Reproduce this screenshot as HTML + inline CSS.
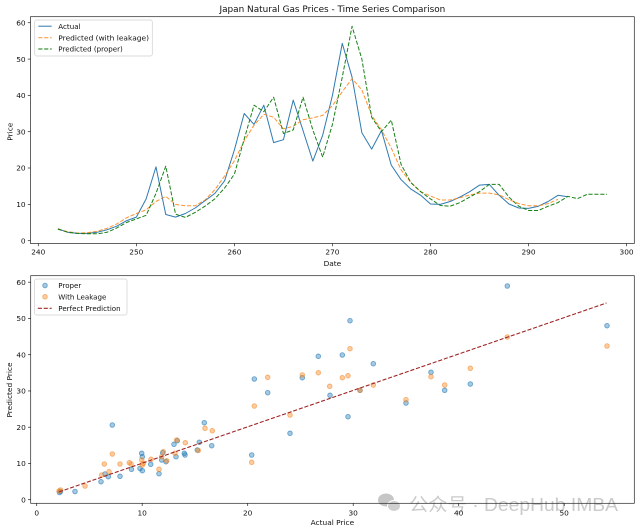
<!DOCTYPE html>
<html><head><meta charset="utf-8"><style>
html,body{margin:0;padding:0;background:#fff;}
svg{display:block;font-family:"DejaVu Sans","Liberation Sans",sans-serif;}
</style></head><body>
<svg width="640" height="532" viewBox="0 0 640 532" xmlns="http://www.w3.org/2000/svg">
<rect width="640" height="532" fill="#fff"/>

<!-- ===== TOP CHART ===== -->
<text x="332.4" y="12" font-size="8.9" text-anchor="middle" fill="#111">Japan Natural Gas Prices - Time Series Comparison</text>

<g fill="none" stroke-width="1.0" stroke-linejoin="round">
<polyline stroke="#2f7ab0" points="57.91,228.7 67.72,232.3 77.52,233.4 87.33,233.4 97.13,232.3 106.94,229.8 116.74,226.2 126.55,220.7 136.35,217.1 146.16,198.9 155.96,166.9 165.77,214.5 175.57,217.1 185.38,213.5 195.18,208.0 204.99,200.7 214.79,193.5 224.60,180.8 234.40,149.9 244.21,113.5 254.01,124.4 263.82,105.2 273.62,142.6 283.43,139.7 293.23,100.1 303.04,130.6 312.84,161.1 322.65,135.3 332.45,95.4 342.26,43.4 352.06,77.2 361.87,132.8 371.67,149.1 381.48,130.6 391.28,165.1 401.09,179.7 410.89,189.1 420.70,195.3 430.50,204.0 440.31,204.4 450.11,201.5 459.92,197.1 469.72,191.7 479.53,185.1 489.33,184.4 499.14,195.3 508.94,204.0 518.75,208.0 528.55,208.4 538.36,206.2 548.16,201.5 557.97,195.3 567.77,196.7"/>
<polyline stroke="#ff7f0e" stroke-opacity="0.85" stroke-dasharray="4.1,1.8" points="57.91,229.1 67.72,231.6 77.52,233.1 87.33,232.7 97.13,231.3 106.94,228.3 116.74,224.0 126.55,217.8 136.35,213.5 146.16,209.8 155.96,201.5 165.77,196.4 175.57,204.4 185.38,205.8 195.18,205.8 204.99,200.0 214.79,189.8 224.60,176.0 234.40,160.8 244.21,140.8 254.01,125.2 263.82,114.3 273.62,117.2 283.43,128.8 293.23,126.3 303.04,119.7 312.84,117.9 322.65,115.4 332.45,105.6 342.26,91.7 352.06,78.7 361.87,89.9 371.67,115.4 381.48,129.9 391.28,148.1 401.09,169.9 410.89,182.6 420.70,191.7 430.50,196.0 440.31,200.0 450.11,200.0 459.92,197.8 469.72,194.9 479.53,193.1 489.33,193.1 499.14,194.9 508.94,199.6 518.75,203.6 528.55,205.8 538.36,205.8 548.16,203.6 557.97,199.3"/>
<polyline stroke="#0a7a0a" stroke-opacity="0.95" stroke-dasharray="4.1,1.8" points="57.91,229.1 67.72,232.3 77.52,233.4 87.33,233.8 97.13,233.8 106.94,232.3 116.74,228.0 126.55,222.5 136.35,218.9 146.16,215.3 155.96,193.5 165.77,166.2 175.57,214.2 185.38,217.4 195.18,212.4 204.99,206.2 214.79,198.9 224.60,188.0 234.40,174.2 244.21,139.0 254.01,105.2 263.82,111.7 273.62,97.2 283.43,133.5 293.23,129.9 303.04,97.2 312.84,130.0 322.65,157.1 332.45,124.4 342.26,77.2 352.06,26.3 361.87,59.1 371.67,117.2 381.48,131.7 391.28,120.1 401.09,164.4 410.89,182.6 420.70,191.7 430.50,198.9 440.31,205.5 450.11,206.2 459.92,202.6 469.72,197.1 479.53,191.7 489.33,184.4 499.14,184.4 508.94,197.1 518.75,206.2 528.55,210.5 538.36,210.5 548.16,206.2 557.97,202.6 567.77,196.4 577.58,198.6 587.38,194.2 597.19,194.2 606.99,194.2"/>
</g>

<!-- top axes frame -->
<rect x="30.5" y="16.7" width="603.8" height="226.8" fill="none" stroke="#222" stroke-width="0.7"/>
<g stroke="#222" stroke-width="0.7">
<line x1="38.3" y1="243.5" x2="38.3" y2="246.2"/>
<line x1="136.35" y1="243.5" x2="136.35" y2="246.2"/>
<line x1="234.4" y1="243.5" x2="234.4" y2="246.2"/>
<line x1="332.45" y1="243.5" x2="332.45" y2="246.2"/>
<line x1="430.5" y1="243.5" x2="430.5" y2="246.2"/>
<line x1="528.55" y1="243.5" x2="528.55" y2="246.2"/>
<line x1="626.6" y1="243.5" x2="626.6" y2="246.2"/>
<line x1="30.5" y1="240.7" x2="27.8" y2="240.7"/>
<line x1="30.5" y1="204.4" x2="27.8" y2="204.4"/>
<line x1="30.5" y1="168.0" x2="27.8" y2="168.0"/>
<line x1="30.5" y1="131.7" x2="27.8" y2="131.7"/>
<line x1="30.5" y1="95.4" x2="27.8" y2="95.4"/>
<line x1="30.5" y1="59.1" x2="27.8" y2="59.1"/>
<line x1="30.5" y1="22.7" x2="27.8" y2="22.7"/>
</g>
<g font-size="7.4" fill="#111" text-anchor="middle">
<text x="38.3" y="254.5">240</text>
<text x="136.35" y="254.5">250</text>
<text x="234.4" y="254.5">260</text>
<text x="332.45" y="254.5">270</text>
<text x="430.5" y="254.5">280</text>
<text x="528.55" y="254.5">290</text>
<text x="626.6" y="254.5">300</text>
</g>
<g font-size="7.4" fill="#111" text-anchor="end">
<text x="25.6" y="243.4">0</text>
<text x="25.6" y="207.1">10</text>
<text x="25.6" y="170.7">20</text>
<text x="25.6" y="134.4">30</text>
<text x="25.6" y="98.1">40</text>
<text x="25.6" y="61.8">50</text>
<text x="25.6" y="25.4">60</text>
</g>
<text x="332.4" y="265.8" font-size="7.4" text-anchor="middle" fill="#111">Date</text>
<text transform="translate(12.6,131.7) rotate(-90)" font-size="7.4" text-anchor="middle" fill="#111">Price</text>

<!-- top legend -->
<rect x="34.7" y="20" width="117.6" height="36" rx="2" fill="#fff" fill-opacity="0.8" stroke="#d0d0d0" stroke-width="0.7"/>
<line x1="38.3" y1="26.2" x2="51.7" y2="26.2" stroke="#2f7ab0" stroke-width="1.0"/>
<line x1="38.3" y1="37.7" x2="51.7" y2="37.7" stroke="#ff7f0e" stroke-opacity="0.85" stroke-width="1.0" stroke-dasharray="4.1,1.8"/>
<line x1="38.3" y1="49" x2="51.7" y2="49" stroke="#0a7a0a" stroke-width="1.0" stroke-dasharray="4.1,1.8"/>
<g font-size="7.1" fill="#111">
<text x="58.3" y="28.8">Actual</text>
<text x="58.3" y="40.3" textLength="90.7" lengthAdjust="spacingAndGlyphs">Predicted (with leakage)</text>
<text x="58.3" y="51.6">Predicted (proper)</text>
</g>

<!-- ===== BOTTOM CHART ===== -->
<g fill="#1f77b4" fill-opacity="0.4" stroke="#1f77b4" stroke-opacity="0.6" stroke-width="0.9">
<circle cx="59.5" cy="492.5" r="2.3"/><circle cx="60.5" cy="491.5" r="2.3"/><circle cx="75" cy="491.5" r="2.3"/><circle cx="101" cy="481.7" r="2.3"/><circle cx="105" cy="474" r="2.3"/><circle cx="108.3" cy="476.7" r="2.3"/><circle cx="112.3" cy="425" r="2.3"/><circle cx="120" cy="476.3" r="2.3"/><circle cx="131.5" cy="469.3" r="2.3"/><circle cx="140" cy="468.5" r="2.3"/><circle cx="142.3" cy="470.7" r="2.3"/><circle cx="141.7" cy="453.3" r="2.3"/><circle cx="142.3" cy="456.7" r="2.3"/><circle cx="150.7" cy="464.3" r="2.3"/><circle cx="159" cy="473.7" r="2.3"/><circle cx="161.7" cy="460" r="2.3"/><circle cx="162.7" cy="452.7" r="2.3"/><circle cx="166" cy="461.7" r="2.3"/><circle cx="174" cy="444.3" r="2.3"/><circle cx="176" cy="456.7" r="2.3"/><circle cx="177.3" cy="440.7" r="2.3"/><circle cx="184.3" cy="453.3" r="2.3"/><circle cx="185" cy="455" r="2.3"/><circle cx="199.3" cy="442.3" r="2.3"/><circle cx="197.3" cy="450" r="2.3"/><circle cx="204.3" cy="422.7" r="2.3"/><circle cx="211.7" cy="445.7" r="2.3"/><circle cx="251.7" cy="455" r="2.3"/><circle cx="254.3" cy="379" r="2.3"/><circle cx="267.7" cy="392.7" r="2.3"/><circle cx="290" cy="433.3" r="2.3"/><circle cx="302.3" cy="377.7" r="2.3"/><circle cx="318.3" cy="356.3" r="2.3"/><circle cx="330" cy="395.3" r="2.3"/><circle cx="342.3" cy="355" r="2.3"/><circle cx="348" cy="416.7" r="2.3"/><circle cx="350" cy="320.7" r="2.3"/><circle cx="360" cy="390.3" r="2.3"/><circle cx="373.3" cy="363.7" r="2.3"/><circle cx="406" cy="403" r="2.3"/><circle cx="431" cy="372.3" r="2.3"/><circle cx="444.7" cy="390.3" r="2.3"/><circle cx="470.3" cy="384" r="2.3"/><circle cx="507.3" cy="286" r="2.3"/><circle cx="607" cy="325.7" r="2.3"/>
</g>
<g fill="#ff7f0e" fill-opacity="0.4" stroke="#ef8a30" stroke-opacity="0.6" stroke-width="0.9">
<circle cx="59" cy="491" r="2.3"/><circle cx="60.5" cy="490" r="2.3"/><circle cx="85" cy="486" r="2.3"/><circle cx="101.7" cy="475" r="2.3"/><circle cx="104.3" cy="464" r="2.3"/><circle cx="109" cy="471.7" r="2.3"/><circle cx="112.3" cy="454" r="2.3"/><circle cx="120" cy="464" r="2.3"/><circle cx="129.3" cy="462.7" r="2.3"/><circle cx="131" cy="464" r="2.3"/><circle cx="141.7" cy="460" r="2.3"/><circle cx="143.3" cy="463.3" r="2.3"/><circle cx="142.3" cy="465" r="2.3"/><circle cx="151" cy="459.3" r="2.3"/><circle cx="159" cy="469.3" r="2.3"/><circle cx="161.7" cy="456.7" r="2.3"/><circle cx="163.3" cy="451.7" r="2.3"/><circle cx="166.7" cy="460.7" r="2.3"/><circle cx="175" cy="453.3" r="2.3"/><circle cx="176.7" cy="440" r="2.3"/><circle cx="185.3" cy="442.7" r="2.3"/><circle cx="198.3" cy="450.5" r="2.3"/><circle cx="205" cy="428.3" r="2.3"/><circle cx="212.3" cy="430.7" r="2.3"/><circle cx="251.7" cy="462.3" r="2.3"/><circle cx="254.3" cy="406" r="2.3"/><circle cx="267.7" cy="377.3" r="2.3"/><circle cx="290" cy="415" r="2.3"/><circle cx="302.3" cy="375" r="2.3"/><circle cx="318.3" cy="372.7" r="2.3"/><circle cx="329.7" cy="386.3" r="2.3"/><circle cx="342.3" cy="377.7" r="2.3"/><circle cx="348" cy="375.7" r="2.3"/><circle cx="350" cy="348.7" r="2.3"/><circle cx="360" cy="390.3" r="2.3"/><circle cx="373.3" cy="385" r="2.3"/><circle cx="406" cy="399.7" r="2.3"/><circle cx="431" cy="376.7" r="2.3"/><circle cx="444.7" cy="385" r="2.3"/><circle cx="470.3" cy="368.3" r="2.3"/><circle cx="507.3" cy="337" r="2.3"/><circle cx="607" cy="346" r="2.3"/>
</g>
<line x1="59" y1="491.9" x2="606.5" y2="303" stroke="#9e2525" stroke-width="1.1" stroke-dasharray="4.1,1.8"/>

<!-- watermark -->
<g opacity="0.8">
<ellipse cx="386" cy="500" rx="8" ry="6.5" fill="#b8b8b8"/>
<ellipse cx="394" cy="506" rx="6.5" ry="5.5" fill="#c4c4c4" stroke="#fff" stroke-width="1"/>
<text x="409" y="511" font-family="'Liberation Sans','Noto Sans CJK SC',sans-serif" font-size="18" fill="#bdbdbd" textLength="209" lengthAdjust="spacingAndGlyphs">公众号 · DeepHub IMBA</text>
</g>

<!-- bottom axes frame -->
<rect x="30.7" y="275.7" width="603.6" height="227.6" fill="none" stroke="#222" stroke-width="0.7"/>
<g stroke="#222" stroke-width="0.7">
<line x1="36.7" y1="503.3" x2="36.7" y2="506"/>
<line x1="142.2" y1="503.3" x2="142.2" y2="506"/>
<line x1="247.7" y1="503.3" x2="247.7" y2="506"/>
<line x1="353.2" y1="503.3" x2="353.2" y2="506"/>
<line x1="458.7" y1="503.3" x2="458.7" y2="506"/>
<line x1="564.2" y1="503.3" x2="564.2" y2="506"/>
<line x1="30.7" y1="499.7" x2="28" y2="499.7"/>
<line x1="30.7" y1="463.45" x2="28" y2="463.45"/>
<line x1="30.7" y1="427.2" x2="28" y2="427.2"/>
<line x1="30.7" y1="390.95" x2="28" y2="390.95"/>
<line x1="30.7" y1="354.7" x2="28" y2="354.7"/>
<line x1="30.7" y1="318.45" x2="28" y2="318.45"/>
<line x1="30.7" y1="282.2" x2="28" y2="282.2"/>
</g>
<g font-size="7.4" fill="#111" text-anchor="middle">
<text x="36.7" y="515.4">0</text>
<text x="142.2" y="515.4">10</text>
<text x="247.7" y="515.4">20</text>
<text x="353.2" y="515.4">30</text>
<text x="458.7" y="515.4">40</text>
<text x="564.2" y="515.4">50</text>
</g>
<g font-size="7.4" fill="#111" text-anchor="end">
<text x="25.8" y="502.4">0</text>
<text x="25.8" y="466.1">10</text>
<text x="25.8" y="429.9">20</text>
<text x="25.8" y="393.6">30</text>
<text x="25.8" y="357.4">40</text>
<text x="25.8" y="321.1">50</text>
<text x="25.8" y="284.9">60</text>
</g>
<text x="332.4" y="524.9" font-size="7.4" text-anchor="middle" fill="#111">Actual Price</text>
<text transform="translate(11.8,390) rotate(-90)" font-size="7.4" text-anchor="middle" fill="#111">Predicted Price</text>

<!-- bottom legend -->
<rect x="34.5" y="279" width="92.5" height="36" rx="2" fill="#fff" fill-opacity="0.8" stroke="#d0d0d0" stroke-width="0.7"/>
<circle cx="45" cy="285.5" r="2.3" fill="#1f77b4" fill-opacity="0.4" stroke="#1f77b4" stroke-opacity="0.6" stroke-width="0.9"/>
<circle cx="45" cy="296.8" r="2.3" fill="#ff7f0e" fill-opacity="0.4" stroke="#ef8a30" stroke-opacity="0.6" stroke-width="0.9"/>
<line x1="37.8" y1="308.3" x2="51.7" y2="308.3" stroke="#9e2525" stroke-width="1.1" stroke-dasharray="4.1,1.8"/>
<g font-size="7.1" fill="#111">
<text x="58.3" y="288.1">Proper</text>
<text x="58.3" y="299.4">With Leakage</text>
<text x="58.3" y="310.9">Perfect Prediction</text>
</g>
</svg>
</body></html>
